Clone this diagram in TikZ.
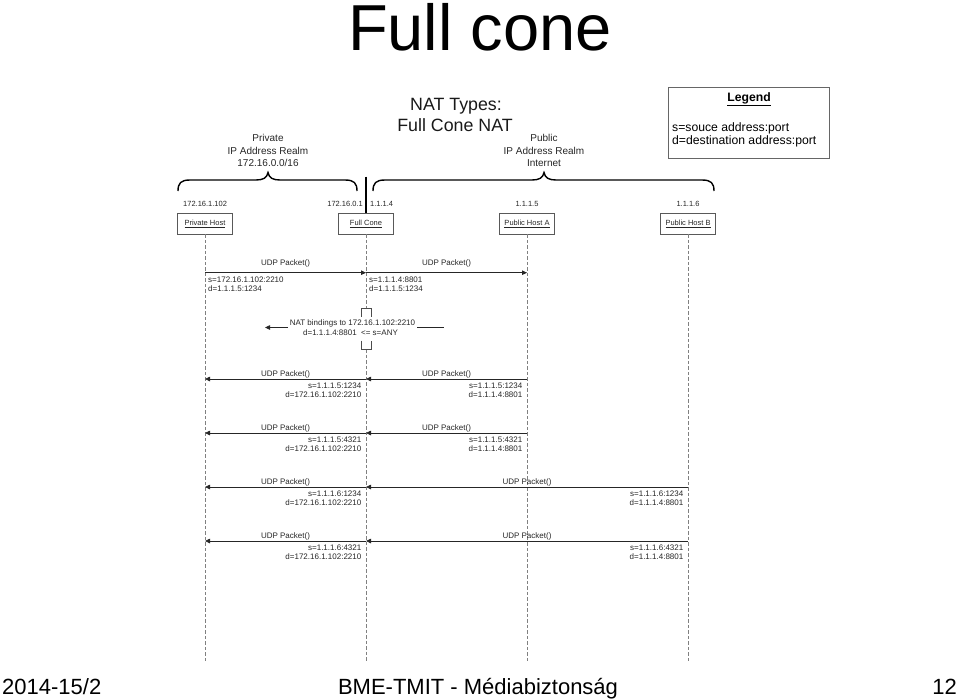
\documentclass[tikz,border=0pt]{standalone}
\usepackage{fontspec}
\setmainfont{Liberation Sans}
\usetikzlibrary{arrows.meta}
\begin{document}
\begin{tikzpicture}[x=1pt,y=-1pt,
  lbl/.style={inner sep=0,text=black!85,font=\fontsize{8}{9.6}\selectfont},
  ip/.style={inner sep=0,text=black!85,font=\fontsize{7.5}{9}\selectfont},
  realm/.style={inner sep=0,text=black!85,font=\fontsize{10}{11.8}\selectfont,align=center},
  hostbox/.style={draw=black!65,line width=0.7pt,minimum width=55pt,minimum height=20.5pt,inner sep=0,text=black!85,font=\fontsize{7.5}{9}\selectfont},
  life/.style={draw=black!50,line width=0.9pt,dash pattern=on 3.5pt off 2pt},
  msg/.style={draw=black!85,line width=0.8pt,-{Triangle[length=5pt,width=4.5pt]}},
  plainline/.style={draw=black!85,line width=0.8pt},
  brace/.style={draw=black,line width=1.4pt},
  bracket/.style={draw=black!70,line width=0.8pt},
  legtext/.style={inner sep=0,font=\fontsize{12.2}{14}\selectfont},
]
\useasboundingbox (0,0) rectangle (960,699);

% Title and footer
\node[inner sep=0,anchor=base,font=\fontsize{65}{65}\selectfont] (title) at (480,50) {Full cone};
\node[inner sep=0,anchor=base west,font=\fontsize{22}{22}\selectfont] (fl) at (2,694) {2014-15/2};
\node[inner sep=0,anchor=base,font=\fontsize{22}{22}\selectfont] (fc0) at (478,694) {BME-TMIT - Médiabiztonság};
\node[inner sep=0,anchor=base east,font=\fontsize{22}{22}\selectfont] (fr) at (957,694) {12};

% Diagram heading
\node[inner sep=0,anchor=base,text=black!90,font=\fontsize{17.8}{21}\selectfont] (h1) at (456,110) {NAT Types:};
\node[inner sep=0,anchor=base,text=black!90,font=\fontsize{17.8}{21}\selectfont] (h2) at (455,131) {Full Cone NAT};

% Legend
\node[draw=black!60,line width=0.8pt,minimum width=161pt,minimum height=71pt,anchor=north west,inner sep=0] (leg) at (668,87) {};
\node[legtext,anchor=base,font=\fontsize{12.2}{14}\selectfont\bfseries] (legt) at (749,101.5) {\underline{Legend}};
\node[legtext,anchor=base west] (legs) at (672,131) {s=souce address:port};
\node[legtext,anchor=base west] (legd) at (672,144) {d=destination address:port};

% Realms
\node[realm,anchor=base] (pr1) at (268,141.6) {Private};
\node[realm,anchor=base] (pr2) at (268,154.3) {IP Address Realm};
\node[realm,anchor=base] (pr3) at (268,166.6) {172.16.0.0/16};
\node[realm,anchor=base] (pu1) at (544,141.6) {Public};
\node[realm,anchor=base] (pu2) at (544,154.3) {IP Address Realm};
\node[realm,anchor=base] (pu3) at (544,166.6) {Internet};

% Braces
\draw[brace] (178,191) .. controls (178,183) and (181,180) .. (190,180) -- (256,180)
  .. controls (263,180) and (267,178) .. (268,172.5) .. controls (269,178) and (273,180) .. (280,180)
  -- (345,180) .. controls (354,180) and (357,183) .. (357,191);
\draw[brace] (373,191) .. controls (373,183) and (376,180) .. (385,180) -- (532,180)
  .. controls (539,180) and (543,178) .. (544,172.5) .. controls (545,178) and (549,180) .. (556,180)
  -- (702,180) .. controls (711,180) and (714,183) .. (714,191);

% IP labels
\node[ip,anchor=base west] (ip1) at (183,206.7) {172.16.1.102};
\node[ip,anchor=base east] (ip2) at (363,206.7) {172.16.0.1};
\node[ip,anchor=base west] (ip3) at (370,206.7) {1.1.1.4};
\node[ip,anchor=base] (ip4) at (527,206.7) {1.1.1.5};
\node[ip,anchor=base] (ip5) at (688,206.7) {1.1.1.6};

% Hosts
\node[hostbox] (ph) at (205,223.75) {\underline{Private Host}};
\node[hostbox] (fc) at (366,223.75) {\underline{Full Cone}};
\node[hostbox] (ha) at (527,223.75) {\underline{Public Host A}};
\node[hostbox] (hb) at (688,223.75) {\underline{Public Host B}};

% separator line
\coordinate (sep) at (366,176.5);
\draw[line width=2.4pt] (sep) -- (fc.north);

% Lifelines
\coordinate (ph-end) at (205,662);
\coordinate (fc-top) at (366,308);
\coordinate (fc-bot) at (366,349);
\coordinate (fc-end) at (366,662);
\coordinate (ha-end) at (527,662);
\coordinate (hb-end) at (688,662);
\draw[life] (ph.south) -- (ph-end);
\draw[life] (fc.south) -- (fc-top);
\draw[life] (fc-bot) -- (fc-end);
\draw[life] (ha.south) -- (ha-end);
\draw[life] (hb.south) -- (hb-end);

% Message 1
\coordinate (m1a) at (205,272.7);
\coordinate (m1b) at (366,272.7);
\coordinate (m1c) at (527,272.7);
\draw[msg] (m1a) -- (m1b);
\draw[msg] (m1b) -- (m1c);
\node[lbl,anchor=base] (m1l1) at (285.5,265.6) {UDP Packet()};
\node[lbl,anchor=base] (m1l2) at (446.5,265.6) {UDP Packet()};
\node[lbl,anchor=base west] (m1s1) at (208,282) {s=172.16.1.102:2210};
\node[lbl,anchor=base west] (m1d1) at (208,291.5) {d=1.1.1.5:1234};
\node[lbl,anchor=base west] (m1s2) at (369,282) {s=1.1.1.4:8801};
\node[lbl,anchor=base west] (m1d2) at (369,291.5) {d=1.1.1.5:1234};

% NAT bindings note
\draw[bracket] (361,316.5) -- (361,308) -- (371,308) -- (371,316.5);
\draw[bracket] (361,340.5) -- (361,349) -- (371,349) -- (371,340.5);
\node[lbl,anchor=base] (nat1) at (352.5,325) {NAT bindings to 172.16.1.102:2210};
\node[lbl,anchor=base] (nat2) at (350.5,335) {d=1.1.1.4:8801 \ <= s=ANY};
\coordinate (na1) at (288,327.5);
\coordinate (na2) at (265,327.5);
\coordinate (nb1) at (417,327.5);
\coordinate (nb2) at (444,327.5);
\draw[msg] (na1) -- (na2);
\draw[plainline] (nb1) -- (nb2);

% Message 3
\coordinate (m3a) at (527,379);
\coordinate (m3b) at (366,379);
\coordinate (m3c) at (205,379);
\draw[msg] (m3a) -- (m3b);
\draw[msg] (m3b) -- (m3c);
\node[lbl,anchor=base] (m3l1) at (285.5,376.2) {UDP Packet()};
\node[lbl,anchor=base] (m3l2) at (446.5,376.2) {UDP Packet()};
\node[lbl,anchor=base east] (m3s1) at (361.5,388.3) {s=1.1.1.5:1234};
\node[lbl,anchor=base east] (m3d1) at (361.5,397.6) {d=172.16.1.102:2210};
\node[lbl,anchor=base east] (m3s2) at (522.5,388.3) {s=1.1.1.5:1234};
\node[lbl,anchor=base east] (m3d2) at (522.5,397.6) {d=1.1.1.4:8801};

% Message 4
\coordinate (m4a) at (527,433);
\coordinate (m4b) at (366,433);
\coordinate (m4c) at (205,433);
\draw[msg] (m4a) -- (m4b);
\draw[msg] (m4b) -- (m4c);
\node[lbl,anchor=base] (m4l1) at (285.5,430.2) {UDP Packet()};
\node[lbl,anchor=base] (m4l2) at (446.5,430.2) {UDP Packet()};
\node[lbl,anchor=base east] (m4s1) at (361.5,442.3) {s=1.1.1.5:4321};
\node[lbl,anchor=base east] (m4d1) at (361.5,451.6) {d=172.16.1.102:2210};
\node[lbl,anchor=base east] (m4s2) at (522.5,442.3) {s=1.1.1.5:4321};
\node[lbl,anchor=base east] (m4d2) at (522.5,451.6) {d=1.1.1.4:8801};

% Message 5
\coordinate (m5a) at (688,487);
\coordinate (m5b) at (366,487);
\coordinate (m5c) at (205,487);
\draw[msg] (m5a) -- (m5b);
\draw[msg] (m5b) -- (m5c);
\node[lbl,anchor=base] (m5l1) at (285.5,484.2) {UDP Packet()};
\node[lbl,anchor=base] (m5l2) at (527,484.2) {UDP Packet()};
\node[lbl,anchor=base east] (m5s1) at (361.5,496.3) {s=1.1.1.6:1234};
\node[lbl,anchor=base east] (m5d1) at (361.5,505.6) {d=172.16.1.102:2210};
\node[lbl,anchor=base east] (m5s2) at (683.5,496.3) {s=1.1.1.6:1234};
\node[lbl,anchor=base east] (m5d2) at (683.5,505.6) {d=1.1.1.4:8801};

% Message 6
\coordinate (m6a) at (688,541);
\coordinate (m6b) at (366,541);
\coordinate (m6c) at (205,541);
\draw[msg] (m6a) -- (m6b);
\draw[msg] (m6b) -- (m6c);
\node[lbl,anchor=base] (m6l1) at (285.5,538.2) {UDP Packet()};
\node[lbl,anchor=base] (m6l2) at (527,538.2) {UDP Packet()};
\node[lbl,anchor=base east] (m6s1) at (361.5,550.3) {s=1.1.1.6:4321};
\node[lbl,anchor=base east] (m6d1) at (361.5,559.6) {d=172.16.1.102:2210};
\node[lbl,anchor=base east] (m6s2) at (683.5,550.3) {s=1.1.1.6:4321};
\node[lbl,anchor=base east] (m6d2) at (683.5,559.6) {d=1.1.1.4:8801};
\end{tikzpicture}
\end{document}
